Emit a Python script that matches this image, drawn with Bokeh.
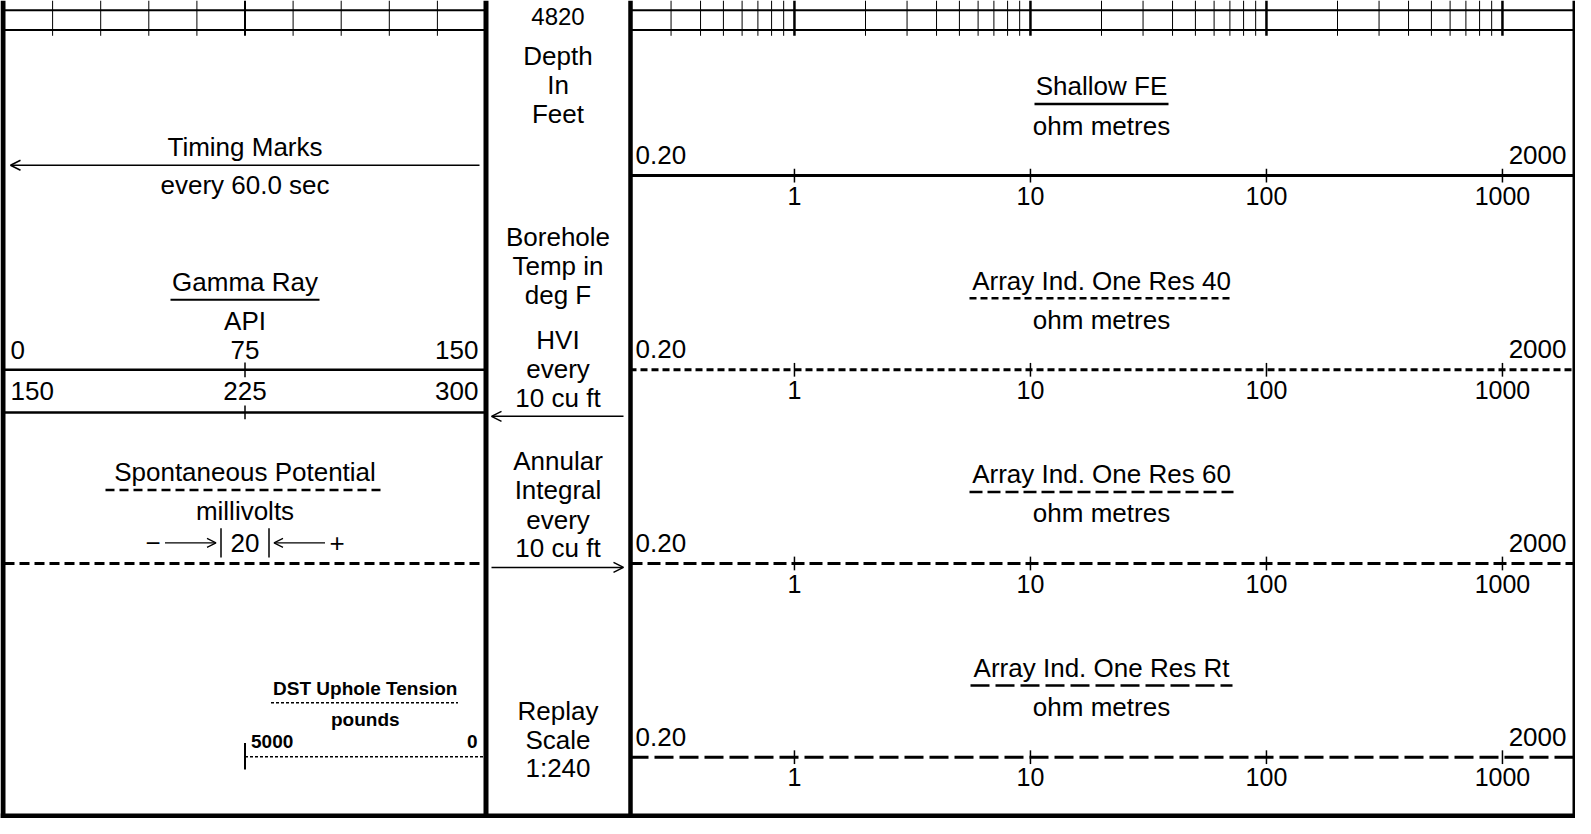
import math
from bokeh.plotting import figure
from bokeh.models import Range1d, LogScale, Arrow, OpenHead
from bokeh.core.properties import value
from bokeh.embed import file_html
from bokeh.resources import INLINE

# ---------------- data (labels & scales) ----------------
depth_label = "4820"
depth_lines = ["Depth", "In", "Feet"]
temp_lines = ["Borehole", "Temp in", "deg F"]
hvi_lines = ["HVI", "every", "10 cu ft"]
annular_lines = ["Annular", "Integral", "every", "10 cu ft"]
replay_lines = ["Replay", "Scale", "1:240"]

timing_title = "Timing Marks"
timing_sub = "every 60.0 sec"

gr_title = "Gamma Ray"
gr_unit = "API"
gr_scale_1 = [0, 75, 150]
gr_scale_2 = [150, 225, 300]
gr_grid_step = 15

sp_title = "Spontaneous Potential"
sp_unit = "millivolts"
sp_scale = "20"

dst_title = "DST Uphole Tension"
dst_unit = "pounds"
dst_scale = [5000, 0]

res_titles = ["Shallow FE", "Array Ind. One Res 40",
              "Array Ind. One Res 60", "Array Ind. One Res Rt"]
res_unit = "ohm metres"
res_scale = [0.2, 2000]
res_scale_labels = ["0.20", "2000"]
res_ticks = [1, 10, 100, 1000]
res_tick_labels = ["1", "10", "100", "1000"]
res_grid_mult = [1, 2, 3, 4, 5, 6, 7, 8, 9]

# ---------------- layout (pixel units) ----------------
W, H = 1575, 818
RW, RH = 1575, 834
LX0, LX1 = 4, 485          # left track (GR 0..150)
CX0, CX1 = 486, 629        # depth track
RX0, RX1 = 629, 1573       # resistivity track (0.2..2000, log)
LC = (LX0 + LX1) / 2
CC = (CX0 + CX1) / 2
RC = (RX0 + RX1) / 2
FONT = "Liberation Sans"
FS = 26
res_rows_y = [178.5, 376.5, 574, 771.5]
res_dash = ["solid", "7 4", "13 5", "19 6"]
res_ul_half = [67, 132, 132, 131]


def lin_range(v0, v1, x0, x1):
    k = (v1 - v0) / (x1 - x0)
    return Range1d(v0 - x0 * k, v0 + (RW - x0) * k)


lo, hi = math.log10(res_scale[0]), math.log10(res_scale[1])
kr = (hi - lo) / (RX1 - RX0)
res_range = Range1d(10 ** (lo - RX0 * kr), 10 ** (lo + (RW - RX0) * kr))

p = figure(width=W, height=H, x_range=Range1d(0, RW), y_range=Range1d(RH, 0),
           output_backend="svg", toolbar_location=None, min_border=0,
           x_axis_location=None, y_axis_location=None,
           outline_line_color=None, background_fill_color="white")
p.grid.visible = False
p.extra_x_ranges = {
    "gr1": lin_range(gr_scale_1[0], gr_scale_1[-1], LX0, LX1),
    "gr2": lin_range(gr_scale_2[0], gr_scale_2[-1], LX0, LX1),
    "dst": lin_range(dst_scale[0], dst_scale[1], LC, LX1),
    "res": res_range,
}
p.extra_x_scales = {"res": LogScale()}


def txt(xs, ys, texts, align="center", size=FS, bold=False, rng="default",
        xoff=0, font=FONT):
    p.text(x=xs, y=ys, text=texts, text_align=align, text_baseline="middle",
           text_font_size=f"{size}px", text_font=value(font),
           text_font_style="bold" if bold else "normal", x_range_name=rng,
           x_offset=xoff, text_color="black")


def hline(x0, x1, y, width=2, dash="solid", rng="default"):
    p.segment(x0=[x0], y0=[y], x1=[x1], y1=[y], line_color="black",
              line_width=width, line_dash=dash, x_range_name=rng)


def vlines(xs, y0, y1, width=1, rng="default"):
    p.segment(x0=xs, y0=[y0] * len(xs), x1=xs, y1=[y1] * len(xs),
              line_color="black", line_width=width, x_range_name=rng)


# ---------------- top grid ----------------
grid_gr = list(range(gr_scale_1[0] + gr_grid_step, gr_scale_1[-1], gr_grid_step))
vlines([g for g in grid_gr if g != gr_scale_1[1]], 0, 36, 1, "gr1")
vlines([gr_scale_1[1]], 0, 36, 2, "gr1")
grid_res = [m * 10 ** e for e in range(-1, 4) for m in res_grid_mult
            if res_scale[0] < m * 10 ** e < res_scale[1]]
vlines([g for g in grid_res if g not in res_ticks], 0, 36, 1, "res")
vlines(res_ticks, 0, 36, 2.5, "res")
for yy in (10, 30):
    hline(gr_scale_1[0], gr_scale_1[-1], yy, 2, rng="gr1")
    hline(res_scale[0], res_scale[1], yy, 2, rng="res")

# ---------------- depth track ----------------
txt([CC], [16], [depth_label], size=24)
txt([CC] * 3, [57, 86.5, 116], depth_lines)
txt([CC] * 3, [241, 271, 300.5], temp_lines)
txt([CC] * 3, [346, 376, 405], hvi_lines)
txt([CC] * 4, [469, 499, 529.5, 558], annular_lines)
txt([CC] * 3, [724, 754, 783], replay_lines)
p.add_layout(Arrow(end=OpenHead(size=10, line_width=1.5), x_start=CX1 - 6,
                   x_end=CX0 + 5, y_start=424, y_end=424, line_width=1.5))
p.add_layout(Arrow(end=OpenHead(size=10, line_width=1.5), x_start=CX0 + 5,
                   x_end=CX1 - 6, y_start=578, y_end=578, line_width=1.5))

# ---------------- left track ----------------
txt([LC], [149], [timing_title])
p.add_layout(Arrow(end=OpenHead(size=10, line_width=1.5), x_start=LX1 - 6,
                   x_end=LX0 + 6, y_start=168, y_end=168, line_width=1.5))
txt([LC], [188], [timing_sub])

txt([LC], [287], [gr_title])
hline(LC - 74.5, LC + 74.5, 305, 2)
txt([LC], [327], [gr_unit])
for row_y, scale, rng in ((356, gr_scale_1, "gr1"), (398, gr_scale_2, "gr2")):
    txt([scale[0]], [row_y], [str(scale[0])], align="left", rng=rng, xoff=6)
    txt([scale[1]], [row_y], [str(scale[1])], align="center", rng=rng)
    txt([scale[2]], [row_y], [str(scale[2])], align="right", rng=rng, xoff=-7)
hline(gr_scale_1[0], gr_scale_1[-1], 376.5, 2.5, rng="gr1")
vlines([gr_scale_1[1]], 369, 384, 1.5, "gr1")
hline(gr_scale_2[0], gr_scale_2[-1], 420, 2.5, rng="gr2")
vlines([gr_scale_2[1]], 413, 427, 1.5, "gr2")

txt([LC], [481], [sp_title])
hline(LC - 139.5, LC + 139.5, 499, 2.5, "9 5")
txt([LC], [520], [sp_unit])
txt([LC], [553], [sp_scale])
txt([LC - 92], [553], ["\u2212"])
txt([LC + 92], [553], ["+"])
vlines([LC - 24, LC + 24], 538, 568, 1.5)
p.add_layout(Arrow(end=OpenHead(size=9, line_width=1.2), x_start=LC - 80,
                   x_end=LC - 29, y_start=553, y_end=553, line_width=1.2))
p.add_layout(Arrow(end=OpenHead(size=9, line_width=1.2), x_start=LC + 80,
                   x_end=LC + 29, y_start=553, y_end=553, line_width=1.2))
hline(gr_scale_1[0], gr_scale_1[-1], 574, 3, "10 5", rng="gr1")

dst_mid = sum(dst_scale) / 2
txt([dst_mid], [701], [dst_title], size=19, bold=True, rng="dst")
hline(LC + 26, LC + 213, 716, 1.5, "3 2")
txt([dst_mid], [733], [dst_unit], size=19, bold=True, rng="dst")
txt([dst_scale[0]], [755], [str(dst_scale[0])], align="left", size=19,
    bold=True, rng="dst", xoff=6)
txt([dst_scale[1]], [755], [str(dst_scale[1])], align="right", size=19,
    bold=True, rng="dst", xoff=-8)
hline(dst_scale[0], dst_scale[1], 771, 1.5, "3 2", rng="dst")
vlines([dst_scale[0]], 757, 784, 2, "dst")

# ---------------- resistivity track ----------------
for i, title in enumerate(res_titles):
    ay = res_rows_y[i]
    txt([RC], [ay - 91], [title])
    hline(RC - res_ul_half[i], RC + res_ul_half[i], ay - 73, 2.5, res_dash[i])
    txt([RC], [ay - 51], [res_unit])
    txt([res_scale[0]], [ay - 21], [res_scale_labels[0]], align="left",
        rng="res", xoff=6)
    txt([res_scale[1]], [ay - 21], [res_scale_labels[1]], align="right",
        rng="res", xoff=-7)
    hline(res_scale[0], res_scale[1], ay, 3, res_dash[i], rng="res")
    vlines(res_ticks, ay - 7, ay + 7, 1.5, "res")
    txt(res_ticks, [ay + 20.5] * len(res_ticks), res_tick_labels, rng="res",
        size=25)

# ---------------- borders ----------------
vlines([2.5, 485.5], 0, RH, 5)
vlines([630], 0, RH, 4.5)
vlines([RX1 + 0.5], 0, RH, 3)
hline(0, RW, 831.5, 5)

open("out.html", "w").write(file_html(p, INLINE))
